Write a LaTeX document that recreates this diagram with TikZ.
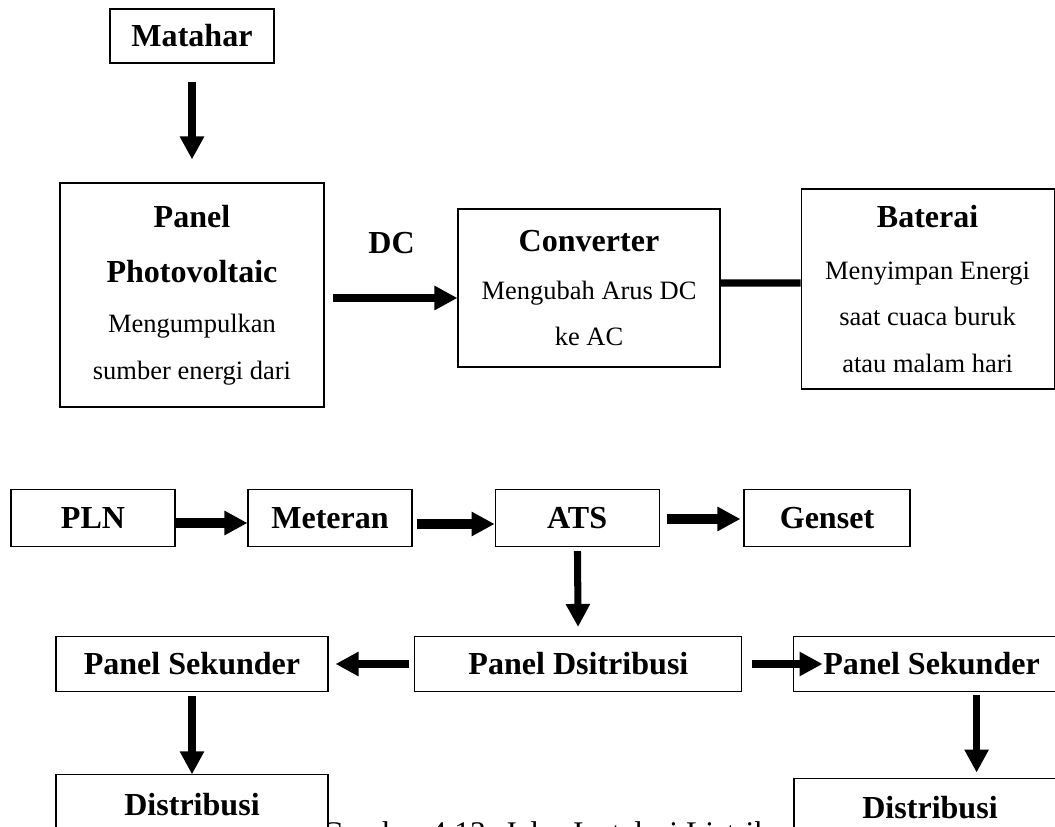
\documentclass[tikz,border=0pt]{standalone}
\usepackage{fontspec}
\setmainfont{Liberation Serif}
\usetikzlibrary{arrows.meta}
\newcommand{\judul}[1]{{\bfseries\fontsize{22.8}{33}\selectfont #1}}

\begin{document}
\begin{tikzpicture}[
    box/.style={rectangle, draw, line width=0.8pt, fill=white, inner sep=0pt, align=center, font=\fontsize{18.85}{33}\selectfont},
    tebal/.style={font=\bfseries\fontsize{22.8}{33}\selectfont},
    arrow/.style={-{Triangle[length=0.575cm, width=0.575cm]}, line width=5pt},
    jalur/.style={line width=5pt}
]
\useasboundingbox (0,0) rectangle (26.375,-20.675);

\node[anchor=base west, font=\fontsize{22.4}{26}\selectfont] (keterangan) at (7.91,-21.075) {Gambar 4.13. Jalur Instalasi Listrik};

\node[box, tebal, minimum width=4.1cm, minimum height=1.35cm] (matahari) at (4.8,-0.9) {Matahar};
\node[box, minimum width=6.6cm, minimum height=5.6cm] (pv) at (4.8,-7.375) {\judul{Panel}\\[6.4pt]\judul{Photovoltaic}\\[2.9pt]Mengumpulkan\\sumber energi dari};
\node[box, minimum width=6.55cm, minimum height=3.95cm] (konverter) at (14.725,-7.2) {\judul{Converter}\\[1.4pt]Mengubah Arus DC\\ke AC};
\node[box, minimum width=6.325cm, minimum height=5cm] (baterai) at (23.19,-7.225) {\judul{Baterai}\\[3.6pt]Menyimpan Energi\\saat cuaca buruk\\atau malam hari};
\node[tebal, anchor=base] (dc) at (9.79,-6.35) {DC};

\node[box, tebal, minimum width=4.1cm, minimum height=1.425cm] (pln) at (2.325,-12.95) {PLN};
\node[box, tebal, minimum width=4.1cm, minimum height=1.425cm] (meteran) at (8.25,-12.95) {Meteran};
\node[box, tebal, minimum width=4.1cm, minimum height=1.425cm] (ats) at (14.43,-12.95) {ATS};
\node[box, tebal, minimum width=4.15cm, minimum height=1.425cm] (genset) at (20.675,-12.95) {Genset};

\node[box, tebal, minimum width=6.8cm, minimum height=1.375cm] (psek1) at (4.8,-16.6) {Panel Sekunder};
\node[box, tebal, minimum width=8.175cm, minimum height=1.375cm] (pdist) at (14.46,-16.6) {Panel Dsitribusi};
\node[box, tebal, minimum width=6.925cm, minimum height=1.375cm] (psek2) at (23.29,-16.6) {Panel Sekunder};

\node[box, tebal, minimum width=6.8cm, minimum height=1.475cm] (dist1) at (4.8,-20.11) {Distribusi};
\node[box, tebal, minimum width=6.8cm, minimum height=1.475cm] (dist2) at (23.25,-20.19) {Distribusi};

\draw[arrow, shorten <=0.45cm, shorten >=0.575cm] (matahari) -- (pv);
\draw[arrow, shorten <=0.2cm] ([yshift=-0.075cm]pv.east) -- ([yshift=-0.25cm]konverter.west);
\draw[jalur] ([yshift=0.125cm]konverter.east) -- ([yshift=0.15cm]baterai.west);

\draw[arrow, line width=7pt] ([yshift=-0.125cm]pln.east) -- ([yshift=-0.125cm]meteran.west);
\draw[arrow, line width=7pt, shorten <=0.1cm] ([yshift=-0.15cm]meteran.east) -- ([yshift=-0.15cm]ats.west);
\draw[arrow, line width=7pt, shorten <=0.175cm, shorten >=0.075cm] ([yshift=-0.025cm]ats.east) -- ([yshift=-0.025cm]genset.west);
\draw[arrow, shorten <=0.1cm, shorten >=0.225cm] (ats) -- (pdist);

\draw[arrow, shorten <=0.125cm, shorten >=0.175cm] (pdist) -- (psek1);
\draw[arrow, shorten <=0.25cm, shorten >=-0.75cm] (pdist) -- (psek2);
\draw[arrow, shorten <=0.1cm] (psek1) -- (dist1);
\draw[arrow, shorten <=0.075cm, shorten >=0.125cm] ([xshift=1.125cm]psek2.south) -- ([xshift=1.125cm]psek2.south |- dist2.north);

\end{tikzpicture}
\end{document}
